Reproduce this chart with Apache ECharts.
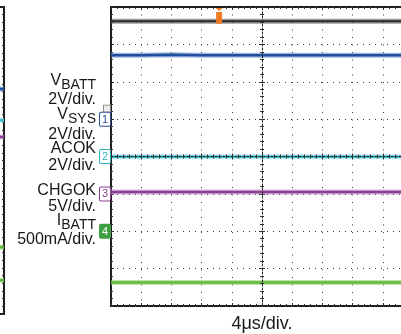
<!DOCTYPE html>
<html><head><meta charset="utf-8">
<script src="https://cdn.jsdelivr.net/npm/echarts@6/dist/echarts.min.js"></script>
<style>html,body{margin:0;padding:0;background:#fff}#c{width:401px;height:334px}</style>
</head><body><div id="c"></div>
<script>
// ---------------- DATA ----------------
// time axis, in divisions (4 µs/div)
const timeDivs = [0, 1, 2, 3, 4, 5, 6, 7, 8, 9, 10];
// trace levels, in vertical divisions (0 = bottom edge, 8 = top edge)
const refTrace = [7.62, 7.62, 7.62, 7.62, 7.62, 7.62, 7.62, 7.62, 7.62, 7.62, 7.62];
const vbatt    = [6.71, 6.71, 6.72, 6.71, 6.71, 6.71, 6.71, 6.71, 6.71, 6.71, 6.71];
const acok     = [3.99, 3.99, 3.99, 3.99, 3.99, 3.99, 3.99, 3.99, 3.99, 3.99, 3.99];
const chgok    = [3.05, 3.05, 3.05, 3.05, 3.05, 3.05, 3.05, 3.05, 3.05, 3.05, 3.05];
const ibatt    = [0.63, 0.63, 0.63, 0.63, 0.63, 0.63, 0.63, 0.63, 0.63, 0.63, 0.63];
// channel ground-reference markers: level (div) -> channel number
const markerLevels = [5, 4, 3, 2];
const markerChannels = ['1', '2', '3', '4'];
// trigger position marker [time div, level div]
const triggerPoint = [3.58, 7.76];
// left neighbouring panel (only its last sliver is visible)
const prevTimes  = [9.8, 10];
const prevBlue   = [5.86, 5.86];
const prevCyan   = [5.05, 5.05];
const prevPurple = [4.61, 4.61];
const prevGreenA = [1.74, 1.74];
const prevGreenB = [0.88, 0.88];
// texts
const sideLabelText = ['V_BATT', '2V/div.', 'V_SYS', '2V/div.', 'ACOK', '2V/div.', 'CHGOK', '5V/div.', 'I_BATT', '500mA/div.'];
const xAxisName = '4\u03bcs/div.';

// ---------------- LAYOUT / STYLE ----------------
const FONT = '"Liberation Sans", Arial, Helvetica, sans-serif';
const sideLabelY = [81, 100, 115, 135, 149, 166, 191, 207, 221, 240];
const TXT = '#1a1718';
const DOT = '#3c3c3c';

const pairs = (xs, ys) => xs.map((x, i) => [x, ys[i]]);

function trace(name, ys, core, band, xs, xi, yi, coreW, extra) {
  xs = xs || timeDivs; xi = xi || 0; yi = yi || 0;
  const d = pairs(xs, ys);
  return [
    {type: 'line', name: name + '_band', data: d, xAxisIndex: xi, yAxisIndex: yi, symbol: 'none', silent: true,
     lineStyle: {color: band, width: 5, opacity: 0.6}, z: 2},
    Object.assign({type: 'line', name: name, data: d, xAxisIndex: xi, yAxisIndex: yi, symbol: 'none', silent: true,
     lineStyle: {color: core, width: coreW || 2.5}, z: 3}, extra || {})
  ];
}

function ax(extra) {
  return Object.assign({
    type: 'value', min: 0, max: 10, interval: 1,
    axisLine: {show: false, onZero: false},
    axisLabel: {show: false},
    splitLine: {show: false},
    axisTick: {show: true, inside: true, length: 3, lineStyle: {color: '#333', width: 1}},
    minorTick: {show: true, splitNumber: 5, length: 2, lineStyle: {color: '#333', width: 1}}
  }, extra);
}
function yax(extra) {
  return ax(Object.assign({max: 8}, extra));
}

const markerColors = {
  '1': {c: '#2d4f9e', bg: '#fff', t: '#2d4f9e'},
  '2': {c: '#2fb1bd', bg: '#fff', t: '#2fb1bd'},
  '3': {c: '#8b3d90', bg: '#fff', t: '#8b3d90'},
  '4': {c: '#3f9f45', bg: '#3f9f45', t: '#fff'}
};
const rich = {
  g: {backgroundColor: '#ececec', borderColor: '#8c8c8c', borderWidth: 1, width: 4, height: 6, lineHeight: 8,
      fontSize: 6, padding: [0, 2, 0, 0], color: '#8c8c8c', align: 'right'},
  e: {height: 6, lineHeight: 8, fontSize: 6, color: 'rgba(0,0,0,0)'}
};
markerChannels.forEach(ch => {
  const m = markerColors[ch];
  rich['m' + ch] = {color: m.t, backgroundColor: m.bg, borderColor: m.c, borderWidth: 1, borderRadius: 1,
    fontSize: 11, fontFamily: FONT, width: 8, height: 12, lineHeight: 13, align: 'center', padding: [1, 1, 0, 1]};
});

const series = [].concat(
  trace('ref', refTrace, '#2a2a2a', '#5c5c5c', null, 0, 0, 2, {
    markPoint: {symbol: 'path://M0,0 L8,0 L4,3 Z M0.6,4 L7.4,4 L7.4,15 Q4,16.5 0.6,15 Z', symbolSize: [7, 16],
      itemStyle: {color: '#f07a22'}, label: {show: false}, silent: true,
      data: [{coord: triggerPoint}]}
  }),
  trace('vbatt', vbatt, '#214fa0', '#5d88c9'),
  trace('acok', acok, '#3dbccb', '#86d9e2'),
  trace('chgok', chgok, '#8c3f93', '#b987bf'),
  trace('ibatt', ibatt, '#62b83c', '#98d273'),
  trace('pb', prevBlue, '#214fa0', '#5d88c9', prevTimes, 4, 4),
  trace('pc', prevCyan, '#3dbccb', '#86d9e2', prevTimes, 4, 4),
  trace('pp', prevPurple, '#8c3f93', '#b987bf', prevTimes, 4, 4),
  trace('pga', prevGreenA, '#62b83c', '#98d273', prevTimes, 4, 4),
  trace('pgb', prevGreenB, '#62b83c', '#98d273', prevTimes, 4, 4)
);

const graphicTexts = sideLabelText.map((t, i) => {
  const parts = t.split('_');
  const text = parts.length > 1 ? '{v|' + parts[0] + '}{s|' + parts[1] + '}' : '{v|' + t + '}';
  return {
    type: 'text', x: 96, y: sideLabelY[i], silent: true,
    style: {text: text, align: 'right', verticalAlign: 'middle', fill: TXT, font: '16px ' + FONT,
      rich: {v: {fontSize: 16, fontFamily: FONT, fill: TXT, color: TXT},
             s: {fontSize: 14, fontFamily: FONT, fill: TXT, color: TXT, padding: [8, 0, 0, 0]}}}
  };
});

const option = {
  animation: false,
  backgroundColor: '#fff',
  grid: [
    {left: 111, top: 7, width: 302, height: 299, show: true, borderColor: '#1c1c1c', borderWidth: 2,
     backgroundColor: 'transparent', containLabel: false, outerBoundsMode: 'none'},
    {left: -296, top: 7, width: 300, height: 307, show: true, borderColor: '#1c1c1c', borderWidth: 2,
     backgroundColor: 'transparent', containLabel: false, outerBoundsMode: 'none'}
  ],
  xAxis: [
    ax({gridIndex: 0, position: 'bottom',
        splitLine: {show: true, lineStyle: {color: DOT, width: 1, type: [1, 6.5]}},
        name: xAxisName, nameLocation: 'middle', nameGap: 9,
        nameTextStyle: {fontSize: 18, fontFamily: FONT, color: TXT}}),
    ax({gridIndex: 0, position: 'top'}),
    ax({gridIndex: 0, position: 'bottom', offset: -149.5, z: 5,
        axisLine: {show: true, onZero: false, lineStyle: {color: '#222', width: 1, type: [2, 2]}}}),
    ax({gridIndex: 0, position: 'bottom', offset: -149.5, z: 5,
        axisTick: {show: true, inside: false, length: 3, lineStyle: {color: '#333', width: 1}}}),
    ax({gridIndex: 1, position: 'bottom', axisTick: {show: false}, minorTick: {show: false}})
  ],
  yAxis: [
    yax({gridIndex: 0, position: 'left',
         splitLine: {show: true, lineStyle: {color: DOT, width: 1, type: [1, 5]}},
         axisLabel: {show: true, margin: 1, formatter: v => {
           const k = markerLevels.indexOf(v);
           if (k < 0) return '';
           const tag = '{m' + markerChannels[k] + '|' + markerChannels[k] + '}';
           return k === 0 ? '{g|}\n' + tag + '\n{e| }' : tag;
         }, rich: rich}}),
    yax({gridIndex: 0, position: 'right'}),
    yax({gridIndex: 0, position: 'left', offset: -151, z: 5,
         axisLine: {show: true, onZero: false, lineStyle: {color: '#222', width: 1, type: [2, 2]}}}),
    yax({gridIndex: 0, position: 'left', offset: -151, z: 5,
         axisTick: {show: true, inside: false, length: 3, lineStyle: {color: '#333', width: 1}}}),
    yax({gridIndex: 1, position: 'right', axisTick: {show: true, inside: true, length: 2, lineStyle: {color: '#333'}},
         minorTick: {show: true, splitNumber: 5, length: 2, lineStyle: {color: '#333'}}})
  ],
  graphic: graphicTexts,
  series: series
};

const chart = echarts.init(document.getElementById('c'), null, {renderer: 'canvas'});
chart.setOption(option);
</script>
</body></html>
